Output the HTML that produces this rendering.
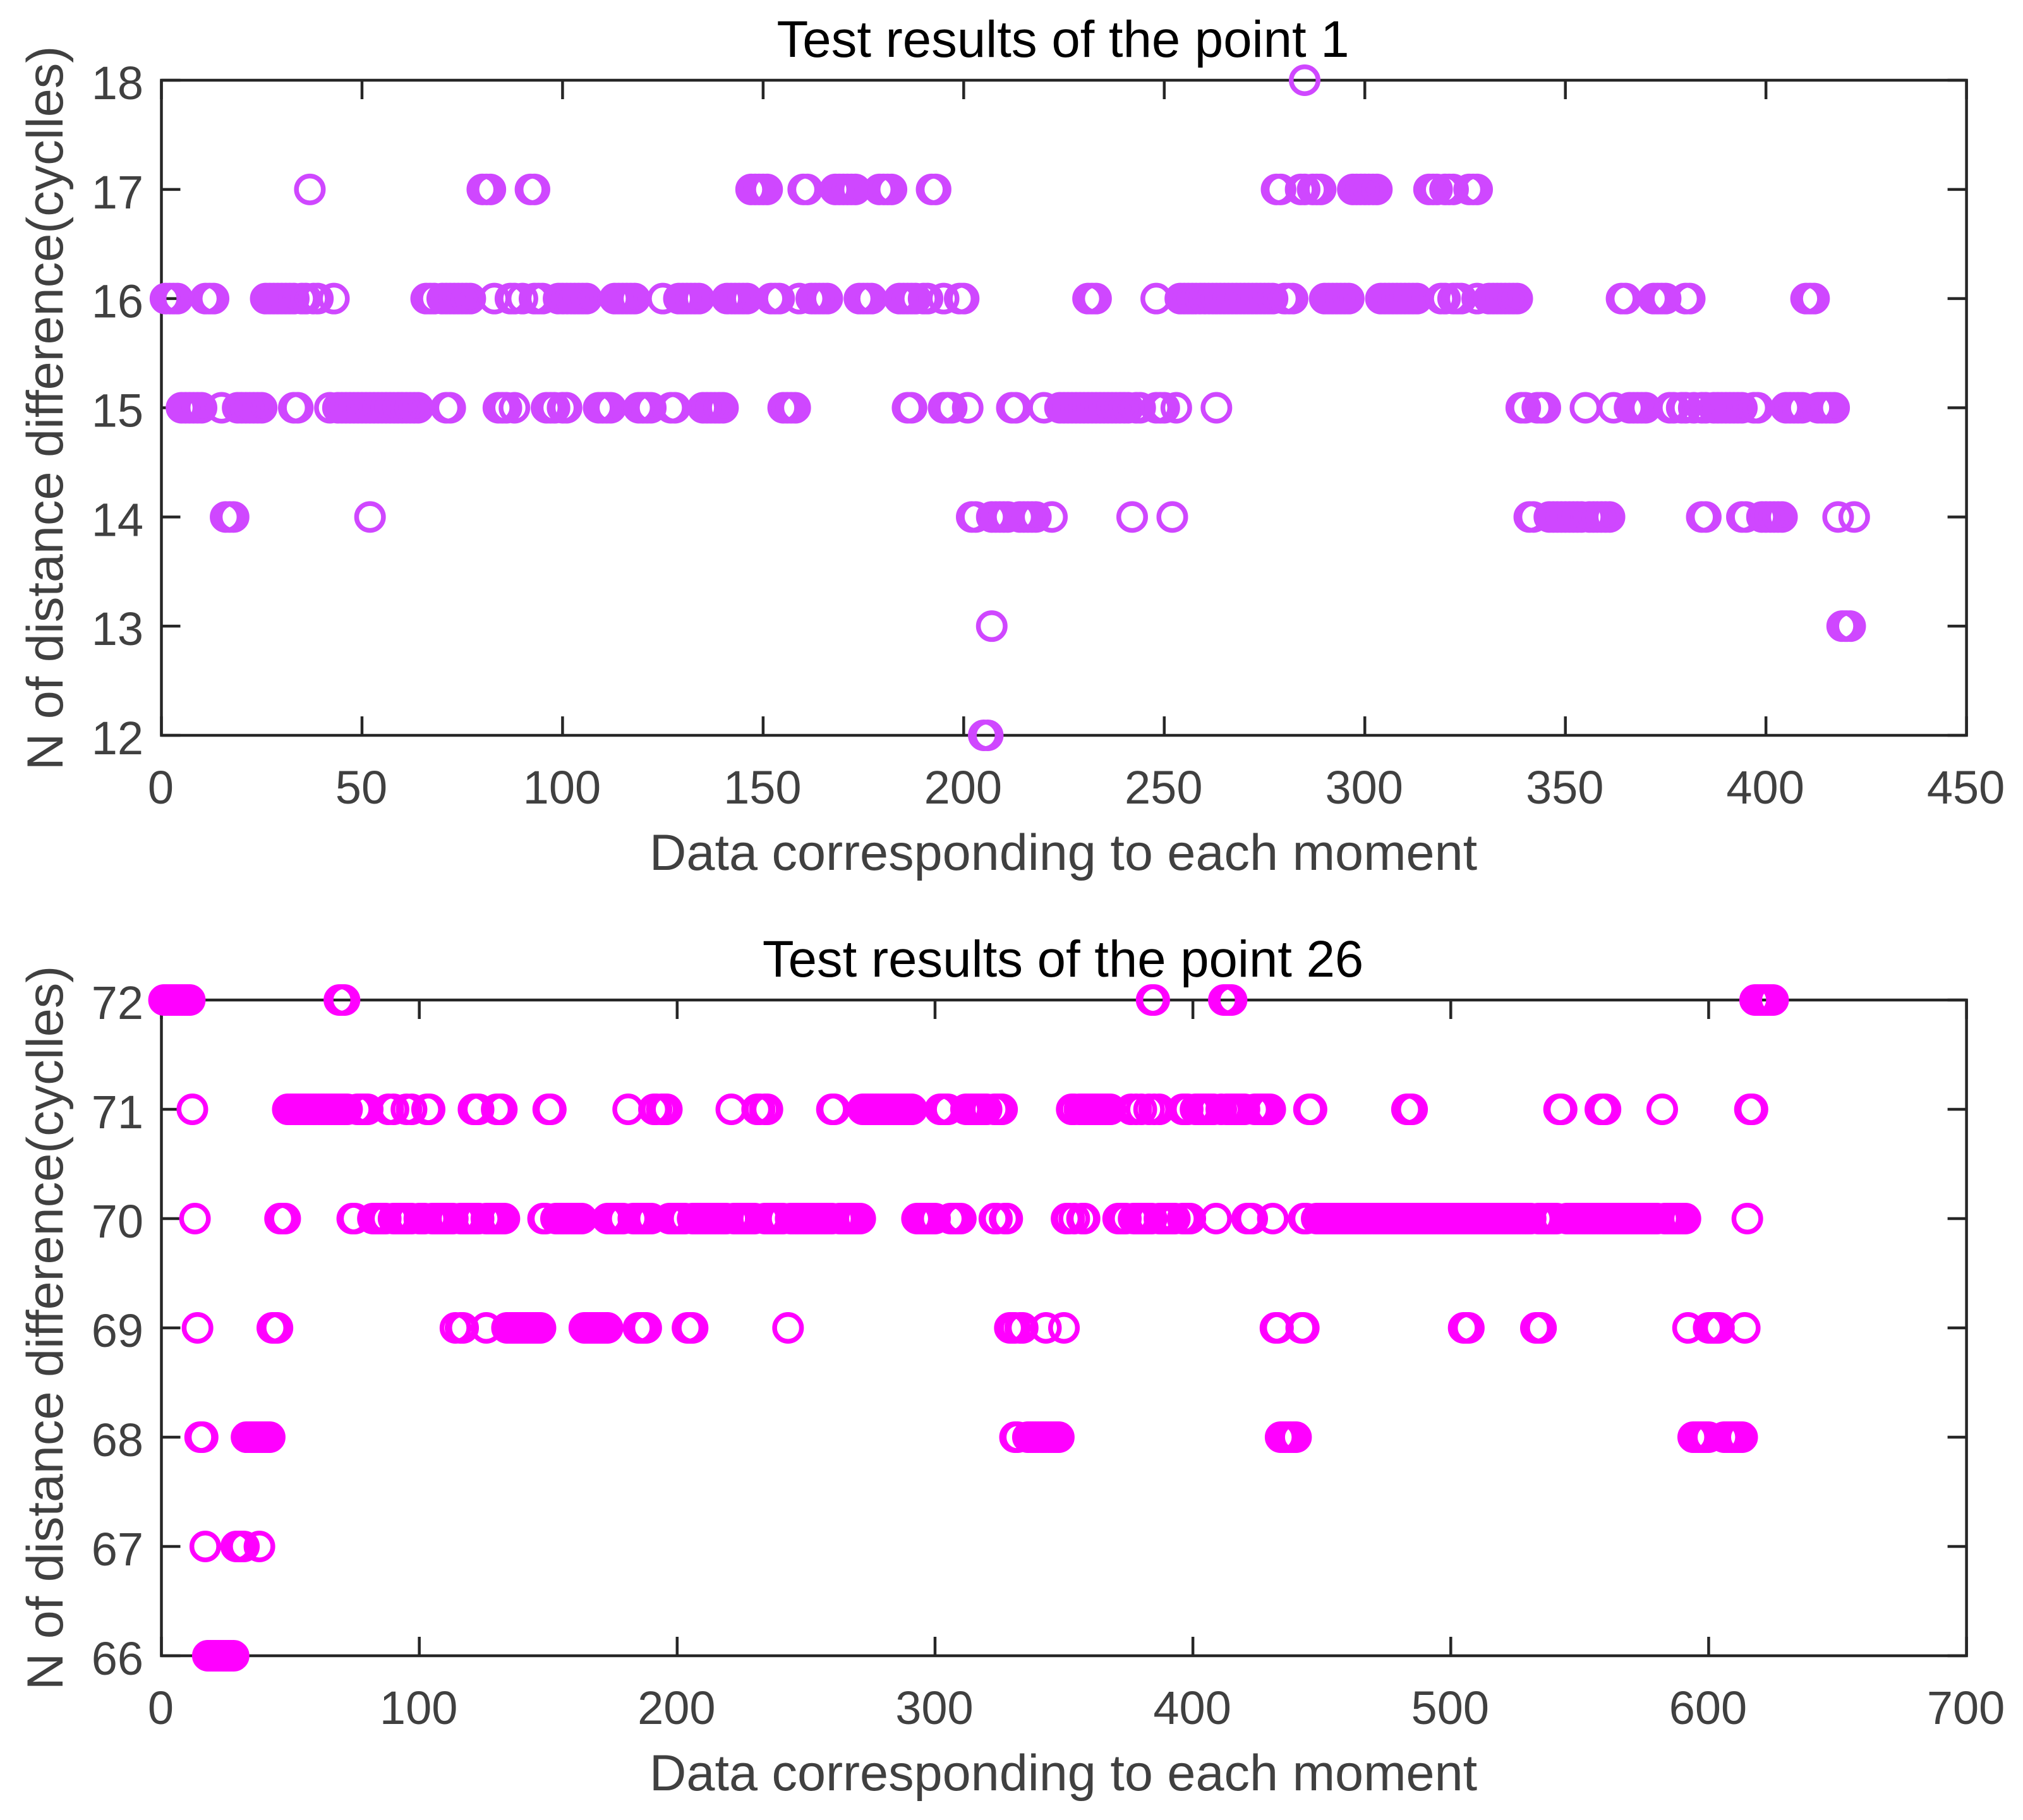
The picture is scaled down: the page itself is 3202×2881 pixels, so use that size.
<!DOCTYPE html>
<html lang="en">
<head>
<meta charset="utf-8">
<title>Test results</title>
<style>
html,body{margin:0;padding:0;background:#fff;}
svg{display:block;}
text{font-family:"Liberation Sans",Arial,sans-serif;}
</style>
</head>
<body>
<svg id="figure" xmlns="http://www.w3.org/2000/svg" width="3202" height="2881" viewBox="0 0 3202 2881"></svg>
<script>
// ---- Chart 1 data: moment indices at each level ----
const chart1Title = "Test results of the point 1";
const chart1XTicks = [0,50,100,150,200,250,300,350,400,450];
const chart1YTicks = [12,13,14,15,16,17,18];
const chart1Row18 = [285];
const chart1Row17 = [37,80,81,82,92,93,147,148,149,150,151,160,161,168,169,170,171,172,173,179,180,181,182,192,193,278,279,284,285,287,288,289,297,298,299,300,301,302,303,316,317,318,320,321,322,326,327,328];
const chart1Row16 = [1,2,3,4,11,12,13,26,27,28,29,30,31,32,33,35,36,38,39,43,66,67,68,70,71,72,73,74,75,76,77,83,87,88,90,93,94,95,99,100,101,102,103,104,105,106,113,114,115,116,117,118,125,129,130,131,132,133,134,141,142,143,144,145,146,152,153,154,159,162,163,164,165,166,174,175,176,177,184,185,186,187,188,190,191,195,199,200,231,232,233,248,254,255,256,257,258,259,260,261,262,263,264,265,266,267,268,269,270,271,272,273,274,275,276,277,280,281,282,290,291,292,293,294,295,296,304,305,306,307,308,309,310,311,312,313,319,320,322,323,324,328,331,332,333,334,335,336,337,338,364,365,372,373,374,375,380,381,410,411,412];
const chart1Row15 = [5,6,7,8,9,10,15,19,20,21,22,23,24,25,33,34,42,44,45,46,47,48,49,50,51,52,53,54,55,56,57,58,59,60,61,62,63,64,71,72,84,85,86,88,96,97,98,100,101,109,110,111,112,119,120,121,122,127,128,135,136,137,138,139,140,155,156,157,158,186,187,195,196,197,201,212,213,220,224,225,226,227,228,229,230,231,232,233,234,235,236,237,238,239,240,241,243,244,248,249,250,253,263,339,340,343,344,345,355,362,366,367,368,369,370,376,377,379,380,382,384,385,387,388,389,390,391,392,393,394,397,398,405,406,407,408,409,413,414,415,416,417];
const chart1Row14 = [16,17,18,52,202,203,207,208,209,210,211,214,215,216,217,218,222,242,252,341,342,346,347,348,349,350,351,352,353,354,356,357,358,359,360,361,384,385,394,395,399,400,401,402,403,404,418,422];
const chart1Row13 = [207,419,420,421];
const chart1Row12 = [205,206];

// ---- Chart 2 data: moment indices at each level ----
const chart2Title = "Test results of the point 26";
const chart2XTicks = [0,100,200,300,400,500,600,700];
const chart2YTicks = [66,67,68,69,70,71,72];
const chart2Row72 = [1,2,3,4,5,6,7,8,9,10,11,69,70,71,384,385,412,413,414,415,618,619,620,621,622,623,624,625];
const chart2Row71 = [12,49,50,51,52,53,54,55,56,57,58,59,60,61,62,63,64,65,66,67,68,69,70,71,72,76,77,78,79,80,88,90,95,97,103,104,121,122,123,130,131,132,150,151,181,191,192,194,195,196,221,231,232,234,235,260,261,272,273,274,275,276,277,278,279,280,281,282,283,284,285,286,287,288,289,290,291,302,303,304,305,312,313,314,315,316,317,318,319,320,323,324,325,326,353,354,356,357,358,359,360,361,362,363,364,365,366,367,368,376,378,380,383,385,387,396,397,398,401,402,403,404,405,406,407,408,411,413,414,415,416,417,418,419,420,424,425,426,427,428,429,430,445,446,483,484,485,542,543,558,559,560,582,616,617];
const chart2Row70 = [13,46,47,48,74,75,82,83,84,85,86,87,90,91,92,93,94,95,96,97,100,101,102,105,106,107,108,109,110,111,112,113,116,117,118,119,120,121,122,123,126,127,128,129,130,131,132,133,148,149,153,154,155,156,157,158,159,160,161,162,163,173,174,175,176,177,178,179,183,184,185,186,187,188,189,190,197,198,199,200,201,202,203,206,207,208,209,210,211,212,213,214,215,216,217,218,219,222,223,224,225,226,227,228,229,230,234,235,236,237,238,239,240,241,244,245,246,247,248,249,250,251,252,253,254,255,256,257,258,259,260,263,264,265,266,267,268,269,270,271,293,294,295,296,297,298,299,300,306,307,308,309,310,323,324,327,328,351,352,354,357,358,371,372,373,374,377,378,379,380,381,382,383,384,387,388,389,390,391,392,393,396,397,398,399,409,421,422,423,431,443,444,448,449,450,451,452,453,454,455,456,457,458,459,460,461,462,463,464,465,466,467,468,469,470,471,472,473,474,475,476,477,478,479,480,481,482,483,484,485,486,487,488,489,490,491,492,493,494,495,496,497,498,499,500,501,502,503,504,505,506,507,508,509,510,511,512,513,514,515,516,517,518,519,520,521,522,523,524,525,526,527,528,529,530,531,534,535,536,537,538,539,540,541,545,546,547,548,549,550,551,552,553,554,555,556,557,558,559,560,561,562,563,564,565,566,567,568,569,570,571,572,573,574,575,576,577,578,579,580,583,584,585,586,587,588,589,590,591,615];
const chart2Row69 = [14,43,44,45,114,116,117,126,134,135,136,137,138,139,140,141,142,143,144,145,146,147,164,165,166,167,168,169,170,171,172,173,185,186,187,188,204,205,206,243,329,330,331,333,334,343,350,432,433,442,443,505,506,507,533,534,535,592,600,601,602,603,604,614];
const chart2Row68 = [15,16,33,34,35,36,37,38,39,40,41,42,331,332,336,337,338,339,340,341,342,343,344,345,346,347,348,434,435,436,437,438,439,440,594,595,596,597,598,599,600,606,607,608,609,610,611,612,613];
const chart2Row67 = [17,29,30,31,32,38];
const chart2Row66 = [18,19,20,21,22,23,24,25,26,27,28];

const xAxisLabel = "Data corresponding to each moment";
const yAxisLabel = "N of distance difference(cyclles)";

const chart1Rows = [[18,chart1Row18],[17,chart1Row17],[16,chart1Row16],[15,chart1Row15],[14,chart1Row14],[13,chart1Row13],[12,chart1Row12]];
const chart2Rows = [[72,chart2Row72],[71,chart2Row71],[70,chart2Row70],[69,chart2Row69],[68,chart2Row68],[67,chart2Row67],[66,chart2Row66]];

const NS = "http://www.w3.org/2000/svg";
const fig = document.getElementById("figure");

function make(tag, attrs, parent) {
  const el = document.createElementNS(NS, tag);
  for (const k in attrs) el.setAttribute(k, attrs[k]);
  parent.appendChild(el);
  return el;
}

function drawChart(prefix, box, xTicks, yTicks, rows, color, title) {
  const g = make("g", {}, fig);
  
  
  const xMin = xTicks[0], xMax = xTicks[xTicks.length - 1];
  const yMin = yTicks[0], yMax = yTicks[yTicks.length - 1];
  const sx = v => box.left + (v - xMin) / (xMax - xMin) * (box.right - box.left);
  const sy = v => box.bottom - (v - yMin) / (yMax - yMin) * (box.bottom - box.top);
  const axisColor = "#262626", labelColor = "#404040", tickLen = 30;

  const frame = make("rect", {x: box.left, y: box.top, width: box.right - box.left, height: box.bottom - box.top, fill: "none", stroke: axisColor, "stroke-width": 4.5}, g);
  
  

  xTicks.forEach(t => {
    const x = sx(t);
    const m1 = make("line", {x1: x, x2: x, y1: box.bottom, y2: box.bottom - tickLen, stroke: axisColor, "stroke-width": 4.5}, g);
    
    
    const m2 = make("line", {x1: x, x2: x, y1: box.top, y2: box.top + tickLen, stroke: axisColor, "stroke-width": 4.5}, g);
    
    
    const lab = make("text", {x: x - 1, y: box.bottom + 108, "text-anchor": "middle", "font-size": 74, fill: labelColor}, g);
    lab.textContent = t;
    
    
  });

  yTicks.forEach(t => {
    const y = sy(t);
    const m1 = make("line", {x1: box.left, x2: box.left + tickLen, y1: y, y2: y, stroke: axisColor, "stroke-width": 4.5}, g);
    
    
    const m2 = make("line", {x1: box.right, x2: box.right - tickLen, y1: y, y2: y, stroke: axisColor, "stroke-width": 4.5}, g);
    
    
    const lab = make("text", {x: 227, y: y + 30, "text-anchor": "end", "font-size": 74, fill: labelColor}, g);
    lab.textContent = t;
    
    
  });

  const pts = make("g", {fill: "none", stroke: color, "stroke-width": 7.5}, g);
  
  
  rows.forEach(row => {
    row[1].forEach(v => {
      const c = make("circle", {cx: sx(v), cy: sy(row[0]), r: 21.25}, pts);
      
      
    });
  });

  const cx = (box.left + box.right) / 2;
  const tt = make("text", {x: cx - 1.5, y: box.top - 37, "text-anchor": "middle", "font-size": 81.5, fill: "#000"}, g);
  tt.textContent = title;
  
  

  const xl = make("text", {x: cx - 1, y: box.bottom + 213, "text-anchor": "middle", "font-size": 81, fill: labelColor}, g);
  xl.textContent = xAxisLabel;
  
  

  const ym = box.top + 519;
  const yl = make("text", {x: 99, y: ym, "text-anchor": "middle", "font-size": 81, fill: labelColor, transform: "rotate(-90 99 " + ym + ")"}, g);
  yl.textContent = yAxisLabel;
  
  
}

drawChart("point-1", {left: 255.5, right: 3112.6, top: 127, bottom: 1164}, chart1XTicks, chart1YTicks, chart1Rows, "#CF47FF", chart1Title);
drawChart("point-26", {left: 255.5, right: 3112.6, top: 1583, bottom: 2621}, chart2XTicks, chart2YTicks, chart2Rows, "#FF00FF", chart2Title);
</script>
</body>
</html>
